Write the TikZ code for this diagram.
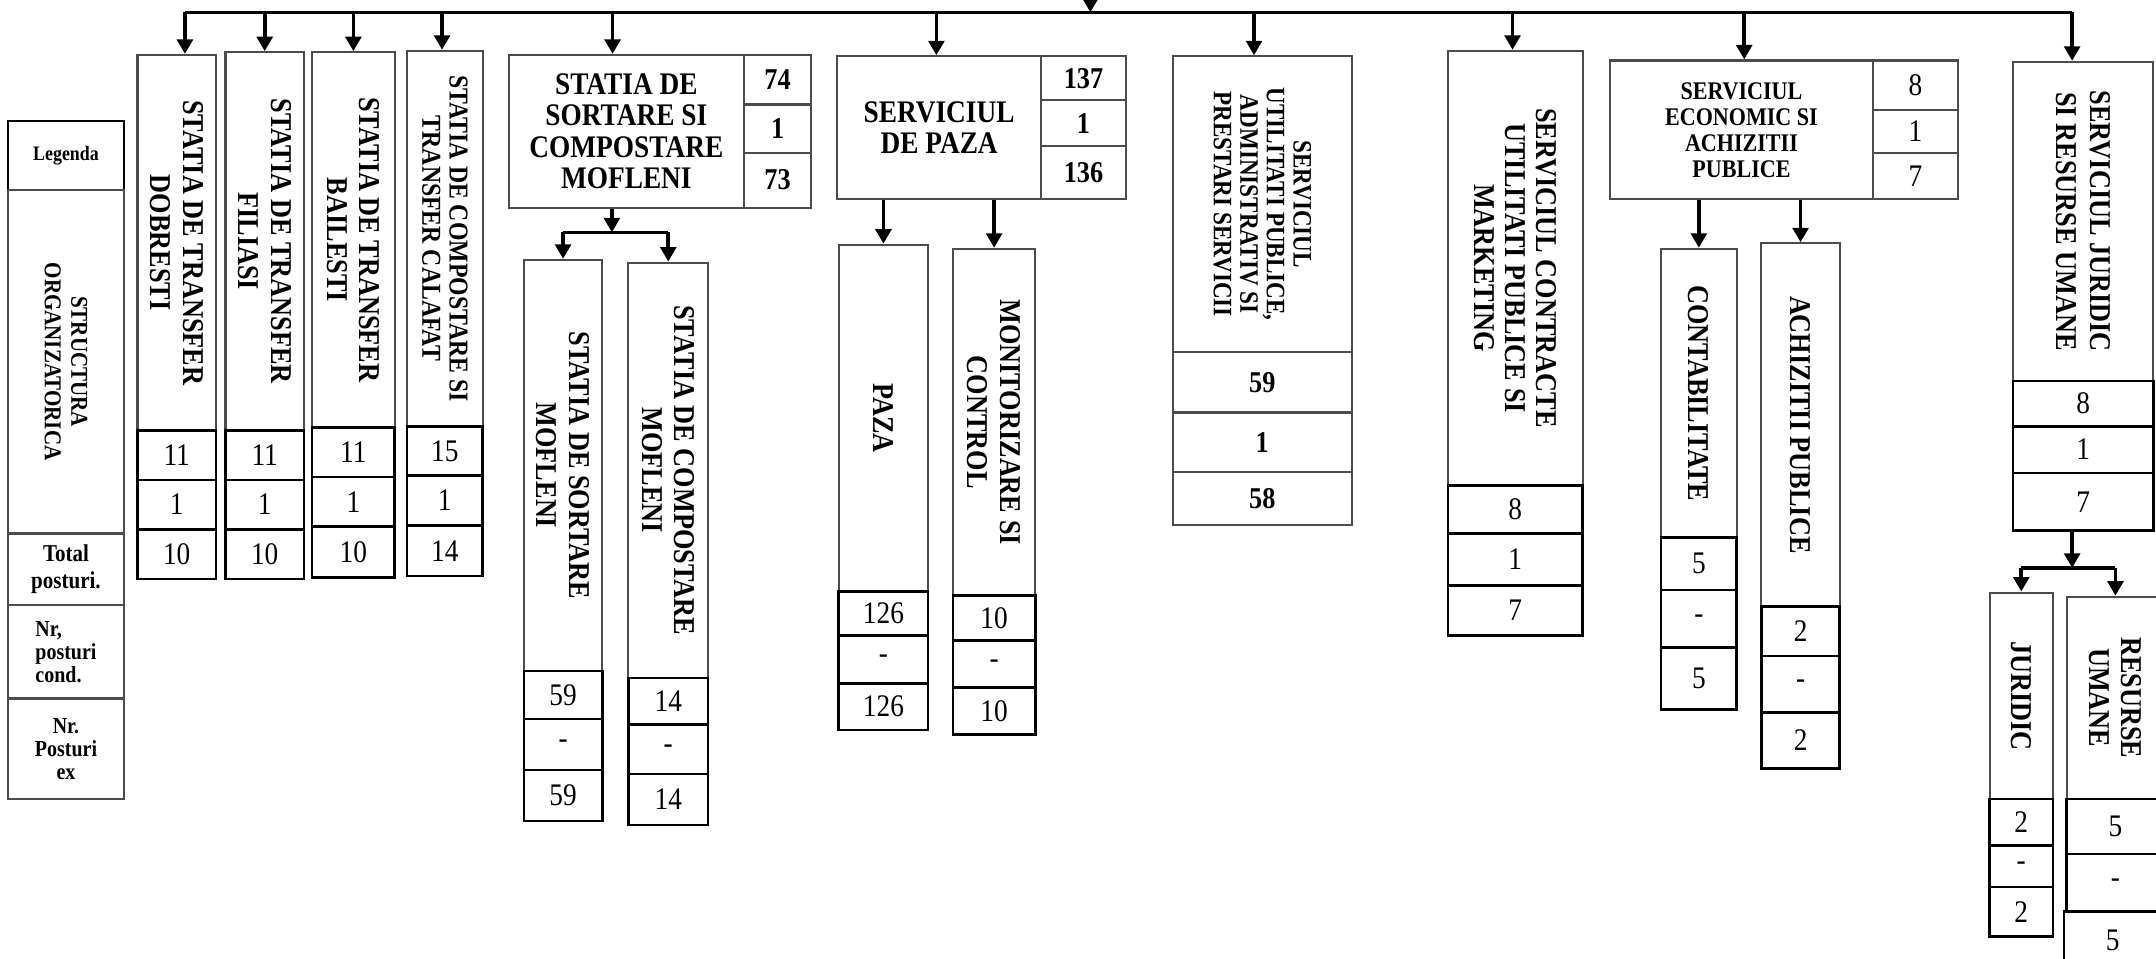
\documentclass[tikz,border=0pt]{standalone}
\usepackage{fontspec}
\setmainfont{Liberation Serif}[FakeStretch=0.87]
\usepackage{tikz}
\usetikzlibrary{positioning,arrows.meta,fit,calc}

\begin{document}
\begin{tikzpicture}[
  x=0.2mm, y=-0.2mm,
  tbox/.style={draw=black!70, line width=0.9pt, fill=white, inner sep=0pt},
  cell/.style={draw=black, line width=1.1pt, fill=white, inner sep=0pt},
  gcell/.style={draw=black!70, line width=0.9pt, fill=white, inner sep=0pt},
  num/.style={label={[font=\fontsize{13}{13}\selectfont]center:{#1}}},
  bnum/.style={label={[font=\bfseries\fontsize{12.5}{13}\selectfont]center:{#1}}},
  vlab/.style={rotate=-90, align=center, inner sep=0pt, font=\bfseries\fontsize{12.5}{13.5}\selectfont},
  hlab/.style={align=center, inner sep=0pt, font=\bfseries\fontsize{13}{13}\selectfont},
  lgd/.style={align=center, inner sep=0pt, font=\bfseries\fontsize{10}{11}\selectfont},
  arr/.style={-{Triangle[width=6.5pt,length=6pt]}, line width=1.5pt},
  bus/.style={line width=1.5pt},
]
\useasboundingbox (0,0) rectangle (1568,697);
\clip (0,0) rectangle (1568,697);

% legend
\node[tbox, draw=black, fit={(6,88) (90,138)}, label={[lgd, font=\bfseries\fontsize{8.5}{9}\selectfont]center:Legenda}] (leg) {};
\node[tbox, fit={(6,138) (90,388)}] (struct) {};
\node[vlab, font=\bfseries\fontsize{10}{11}\selectfont] (struct-t) at (struct.center) {STRUCTURA\\ORGANIZATORICA};
\node[tbox, fit={(6,388) (90,440)}, label={[lgd]center:{Total\\posturi.}}] (tot) {};
\node[tbox, fit={(6,440) (90,508)}, label={[lgd, align=left, font=\bfseries\fontsize{9.5}{9.5}\selectfont]center:{Nr,\\posturi\\cond.}}] (cond) {};
\node[tbox, fit={(6,508) (90,581)}, label={[lgd, font=\bfseries\fontsize{9.5}{9.5}\selectfont]center:{Nr.\\Posturi\\ex}}] (ex) {};

% transfer stations
\node[tbox, fit={(100,40) (157,313)}] (dob) {};
\node[vlab] (dob-t) at (dob.center) {STATIA DE TRANSFER\\DOBRESTI};
\node[cell, num=11, fit={(100,313) (157,349)}] (dob1) {};
\node[cell, num=1, fit={(100,349) (157,385)}] (dob2) {};
\node[cell, num=10, fit={(100,385) (157,421)}] (dob3) {};

\node[tbox, fit={(164,38) (221,313)}] (fil) {};
\node[vlab] (fil-t) at (fil.center) {STATIA DE TRANSFER\\FILIASI};
\node[cell, num=11, fit={(164,313) (221,349)}] (fil1) {};
\node[cell, num=1, fit={(164,349) (221,385)}] (fil2) {};
\node[cell, num=10, fit={(164,385) (221,421)}] (fil3) {};

\node[tbox, fit={(227,38) (287,311)}] (bai) {};
\node[vlab] (bai-t) at (bai.center) {STATIA DE TRANSFER\\BAILESTI};
\node[cell, num=11, fit={(227,311) (287,347)}] (bai1) {};
\node[cell, num=1, fit={(227,347) (287,383)}] (bai2) {};
\node[cell, num=10, fit={(227,383) (287,420)}] (bai3) {};

\node[tbox, fit={(296,37) (351,310)}] (cal) {};
\node[vlab, font=\bfseries\fontsize{11.3}{11.3}\selectfont] (cal-t) at (cal.center) {STATIA DE COMPOSTARE SI\\TRANSFER CALAFAT};
\node[cell, num=15, fit={(296,310) (351,346)}] (cal1) {};
\node[cell, num=1, fit={(296,346) (351,382)}] (cal2) {};
\node[cell, num=14, fit={(296,382) (351,419)}] (cal3) {};

% sortare si compostare
\node[tbox, fit={(370,40) (541,151)}, label={[hlab]center:{STATIA DE\\SORTARE SI\\COMPOSTARE\\MOFLENI}}] (mof) {};
\node[gcell, bnum=74, fit={(541,40) (590,76)}] (mof1) {};
\node[gcell, bnum=1, fit={(541,76) (590,111)}] (mof2) {};
\node[gcell, bnum=73, fit={(541,111) (590,151)}] (mof3) {};

\node[tbox, fit={(381,189) (438,488)}] (mofs1) {};
\node[vlab] (mofs1-t) at (mofs1.center) {STATIA DE SORTARE\\MOFLENI};
\node[cell, num=59, fit={(381,488) (438,523)}] (mofs11) {};
\node[cell, num=-, fit={(381,523) (438,560)}] (mofs12) {};
\node[cell, num=59, fit={(381,560) (438,597)}] (mofs13) {};

\node[tbox, fit={(457,191) (515,493)}] (mofs2) {};
\node[vlab] (mofs2-t) at (mofs2.center) {STATIA DE COMPOSTARE\\MOFLENI};
\node[cell, num=14, fit={(457,493) (515,527)}] (mofs21) {};
\node[cell, num=-, fit={(457,527) (515,563)}] (mofs22) {};
\node[cell, num=14, fit={(457,563) (515,600)}] (mofs23) {};

% paza
\node[tbox, fit={(609,41) (757,145)}, label={[hlab]center:{SERVICIUL\\DE PAZA}}] (pz) {};
\node[gcell, bnum=137, fit={(757,41) (819,73)}] (pz1) {};
\node[gcell, bnum=1, fit={(757,73) (819,106)}] (pz2) {};
\node[gcell, bnum=136, fit={(757,106) (819,145)}] (pz3) {};

\node[tbox, fit={(610,178) (675,430)}] (paza) {};
\node[vlab] (paza-t) at (paza.center) {PAZA};
\node[cell, num=126, fit={(610,430) (675,462)}] (paza1) {};
\node[cell, num=-, fit={(610,462) (675,497)}] (paza2) {};
\node[cell, num=126, fit={(610,497) (675,531)}] (paza3) {};

\node[tbox, fit={(693,181) (753,433)}] (mon) {};
\node[vlab] (mon-t) at (mon.center) {MONITORIZARE SI\\CONTROL};
\node[cell, num=10, fit={(693,433) (753,466)}] (mon1) {};
\node[cell, num=-, fit={(693,466) (753,500)}] (mon2) {};
\node[cell, num=10, fit={(693,500) (753,534)}] (mon3) {};

% utilitati publice
\node[tbox, fit={(853,41) (983,256)}] (util) {};
\node[vlab, font=\bfseries\fontsize{11}{11}\selectfont] (util-t) at (util.center) {SERVICIUL\\UTILITATI PUBLICE,\\ADMINISTRATIV SI\\PRESTARI SERVICII};
\node[gcell, bnum=59, fit={(853,256) (983,300)}] (util1) {};
\node[gcell, bnum=1, fit={(853,300) (983,343)}] (util2) {};
\node[gcell, bnum=58, fit={(853,343) (983,382)}] (util3) {};

% contracte
\node[tbox, fit={(1053,37) (1151,353)}] (ctr) {};
\node[vlab, font=\bfseries\fontsize{12.5}{13}\selectfont] (ctr-t) at (ctr.center) {SERVICIUL CONTRACTE\\UTILITATI PUBLICE SI\\MARKETING};
\node[cell, num=8, fit={(1053,353) (1151,388)}] (ctr1) {};
\node[cell, num=1, fit={(1053,388) (1151,426)}] (ctr2) {};
\node[cell, num=7, fit={(1053,426) (1151,462)}] (ctr3) {};

% economic
\node[tbox, fit={(1171,44) (1362,145)}, label={[hlab, font=\bfseries\fontsize{10.5}{10.8}\selectfont]center:{SERVICIUL\\ECONOMIC SI\\ACHIZITII\\PUBLICE}}] (eco) {};
\node[gcell, num=8, fit={(1362,44) (1424,80)}] (eco1) {};
\node[gcell, num=1, fit={(1362,80) (1424,111)}] (eco2) {};
\node[gcell, num=7, fit={(1362,111) (1424,145)}] (eco3) {};

\node[tbox, fit={(1208,181) (1263,391)}] (contab) {};
\node[vlab] (contab-t) at (contab.center) {CONTABILITATE};
\node[cell, num=5, fit={(1208,391) (1263,429)}] (contab1) {};
\node[cell, num=-, fit={(1208,429) (1263,471)}] (contab2) {};
\node[cell, num=5, fit={(1208,471) (1263,516)}] (contab3) {};

\node[tbox, fit={(1281,177) (1338,441)}] (achiz) {};
\node[vlab] (achiz-t) at (achiz.center) {ACHIZITII PUBLICE};
\node[cell, num=2, fit={(1281,441) (1338,477)}] (achiz1) {};
\node[cell, num=-, fit={(1281,477) (1338,518)}] (achiz2) {};
\node[cell, num=2, fit={(1281,518) (1338,559)}] (achiz3) {};

% juridic
\node[tbox, fit={(1464,45) (1566,277)}] (jur) {};
\node[vlab, font=\bfseries\fontsize{12.5}{14}\selectfont] (jur-t) at (jur.center) {SERVICIUL JURIDIC\\SI RESURSE UMANE};
\node[cell, num=8, fit={(1464,277) (1566,310)}] (jur1) {};
\node[cell, num=1, fit={(1464,310) (1566,344)}] (jur2) {};
\node[cell, num=7, fit={(1464,344) (1566,386)}] (jur3) {};

\node[tbox, fit={(1447,431) (1493,581)}] (juridic) {};
\node[vlab] (juridic-t) at (juridic.center) {JURIDIC};
\node[cell, num=2, fit={(1447,581) (1493,615)}] (juridic1) {};
\node[cell, num=-, fit={(1447,615) (1493,645)}] (juridic2) {};
\node[cell, num=2, fit={(1447,645) (1493,681)}] (juridic3) {};

\node[tbox, fit={(1503,434) (1574,581)}] (rum) {};
\node[vlab] (rum-t) at (rum.center) {RESURSE\\UMANE};
\node[cell, num=5, fit={(1503,581) (1574,621)}] (rum1) {};
\node[cell, num=-, fit={(1503,621) (1574,663)}] (rum2) {};
\node[cell, num=5, fit={(1501,663) (1572,705)}] (rum3) {};

% connectors
\coordinate (bus) at (0,9);
\coordinate (src) at (793,-30);
\draw[arr] (src) -- (src |- bus);
\foreach \n/\s in {dob/6,fil/0,bai/0,cal/-2,mof/-10,pz/-2,util/-6,ctr/-2,eco/2,jur/-8}
  \path ($(\n.north)+(\s,0)$) coordinate (top-\n);
\draw[bus] (top-dob |- bus) -- (top-jur |- bus);
\foreach \n in {dob,fil,bai,cal,mof,pz,util,ctr,eco,jur}
  \draw[arr] (top-\n |- bus) -- (top-\n);

\coordinate (mofj) at (445,169);
\draw[arr] (mofj |- mof.south) -- (mofj);
\draw[bus] (mofs1.north |- mofj) -- (mofs2.north |- mofj);
\draw[arr] (mofs1.north |- mofj) -- (mofs1.north);
\draw[arr] (mofs2.north |- mofj) -- (mofs2.north);

\draw[arr] (paza.north |- pz.south) -- (paza.north);
\draw[arr] (mon.north |- pz.south) -- (mon.north);

\draw[arr] (contab.north |- eco.south) -- (contab.north);
\draw[arr] (achiz.north |- eco.south) -- (achiz.north);

\coordinate (jurj) at (1507,413);
\draw[arr] (jurj |- jur3.south) -- (jurj);
\draw[bus] (juridic.north |- jurj) -- (rum.north |- jurj);
\draw[arr] (juridic.north |- jurj) -- (juridic.north);
\draw[arr] (rum.north |- jurj) -- (rum.north);
\end{tikzpicture}
\end{document}
